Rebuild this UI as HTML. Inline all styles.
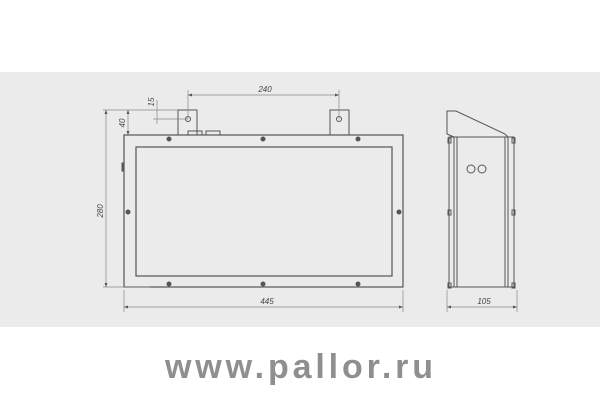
<!DOCTYPE html>
<html><head><style>
body{margin:0;background:#fff;width:600px;height:400px;overflow:hidden}
</style></head><body>
<svg width="600" height="400" xmlns="http://www.w3.org/2000/svg" font-family="Liberation Sans, sans-serif">
<rect x="0" y="72" width="600" height="255" fill="#ebebeb"/>
<g stroke="#555" fill="none" stroke-width="1">
<rect x="124" y="135" width="279" height="152" stroke-width="1.2"/>
<rect x="136" y="147" width="256" height="129" stroke-width="1.2"/>
<rect x="178" y="110" width="19" height="25"/>
<rect x="330" y="110" width="19" height="25"/>
<circle cx="188" cy="119" r="2.5"/>
<circle cx="339" cy="119" r="2.5"/>
<rect x="188" y="131" width="14" height="4"/>
<rect x="206" y="131" width="14" height="4"/>
<rect x="122" y="163" width="2" height="8" fill="#555"/>
<g stroke="#888" stroke-width="0.7">
<line x1="188" y1="90" x2="188" y2="119"/><line x1="339" y1="90" x2="339" y2="119"/>
<line x1="188" y1="95" x2="339" y2="95"/>
<line x1="124" y1="290" x2="124" y2="312"/><line x1="403" y1="290" x2="403" y2="312"/>
<line x1="124" y1="307" x2="403" y2="307"/>
<line x1="103" y1="110" x2="178" y2="110"/><line x1="103" y1="287" x2="150" y2="287"/>
<line x1="106" y1="110" x2="106" y2="287"/>
<line x1="128" y1="110" x2="128" y2="135"/>
<line x1="153" y1="119" x2="188" y2="119"/><line x1="157" y1="100" x2="157" y2="124"/>
<line x1="447" y1="290" x2="447" y2="312"/><line x1="517" y1="290" x2="517" y2="312"/>
<line x1="447" y1="307" x2="517" y2="307"/>
</g>
<polyline points="454,137 447,134 447,111 456,111 505,134 508,137"/>
<rect x="449" y="137" width="65" height="150"/>
<rect x="454" y="137" width="54" height="150"/>
<line x1="457" y1="137" x2="457" y2="287"/>
<line x1="505" y1="137" x2="505" y2="287"/>
<circle cx="471" cy="169" r="4"/>
<circle cx="482" cy="169" r="4"/>
<rect x="448" y="138" width="3" height="5"/><rect x="512" y="138" width="3" height="5"/>
<rect x="448" y="210" width="3" height="5"/><rect x="512" y="210" width="3" height="5"/>
<rect x="448" y="283" width="3" height="5"/><rect x="512" y="283" width="3" height="5"/>
</g>
<g fill="#555">
<circle cx="169" cy="139" r="2.5"/><circle cx="263" cy="139" r="2.5"/><circle cx="358" cy="139" r="2.5"/>
<circle cx="169" cy="284" r="2.5"/><circle cx="263" cy="284" r="2.5"/><circle cx="358" cy="284" r="2.5"/>
<circle cx="128" cy="212" r="2.5"/><circle cx="399" cy="212" r="2.5"/>
<path d="M188 95l4 -1.5v3z M339 95l-4 -1.5v3z M124 307l4 -1.5v3z M403 307l-4 -1.5v3z M447 307l4 -1.5v3z M517 307l-4 -1.5v3z M106 110l-1.5 4h3z M106 287l-1.5 -4h3z M128 110l-1.5 4h3z M128 135l-1.5 -4h3z"/>
</g>
<g fill="#444" font-size="8" font-style="italic">
<text x="265" y="92" text-anchor="middle">240</text>
<text x="267" y="304" text-anchor="middle">445</text>
<text x="484" y="304" text-anchor="middle">105</text>
<text transform="translate(103,211) rotate(-90)" text-anchor="middle">280</text>
<text transform="translate(125,123) rotate(-90)" text-anchor="middle">40</text>
<text transform="translate(154,102) rotate(-90)" text-anchor="middle">15</text>
</g>
<text x="165" y="378" font-size="34" font-weight="bold" fill="#8f8f8f" letter-spacing="4" textLength="272" lengthAdjust="spacing">www.pallor.ru</text>
</svg>
</body></html>
